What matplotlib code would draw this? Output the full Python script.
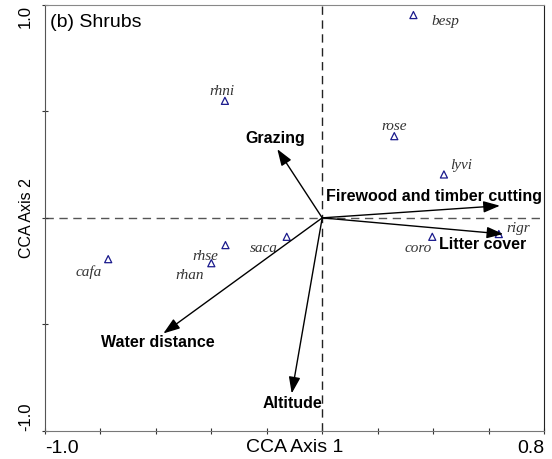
import numpy as np
import matplotlib
matplotlib.use('Agg')
import matplotlib.pyplot as plt

# 物种得分 (CCA 轴1, 轴2)
species = ['besp', 'rhni', 'rose', 'lyvi', 'rigr', 'coro', 'saca', 'rhse', 'rhan', 'cafa']
sp_x = [0.329, -0.351, 0.260, 0.439, 0.637, 0.397, -0.128, -0.349, -0.400, -0.772]
sp_y = [0.953, 0.550, 0.384, 0.204, -0.076, -0.089, -0.089, -0.128, -0.213, -0.194]
# 物种名字的位置
lab_x = [0.443, -0.363, 0.260, 0.503, 0.707, 0.347, -0.212, -0.420, -0.477, -0.844]
lab_y = [0.921, 0.593, 0.428, 0.245, -0.049, -0.143, -0.143, -0.183, -0.269, -0.253]

# 环境因子箭头
env = ['Grazing', 'Firewood and timber cutting', 'Litter cover', 'Water distance', 'Altitude']
env_x = [-0.162, 0.641, 0.653, -0.573, -0.110]
env_y = [0.323, 0.057, -0.076, -0.543, -0.825]
env_lx = [-0.170, 0.403, 0.580, -0.592, -0.109]
env_ly = [0.375, 0.099, -0.123, -0.587, -0.870]

fig = plt.figure(figsize=(5.52, 4.59), dpi=100)
ax = fig.add_axes([0.0815, 0.0617, 0.904, 0.9273])

# 原点的虚线
ax.axhline(0, color='#555555', lw=1, ls=(0, (6, 4)), zorder=1)
ax.axvline(0, color='#222222', lw=1, ls=(0, (6, 4)), zorder=1)

ax.scatter(sp_x, sp_y, marker='^', s=26, facecolors='none', edgecolors='#1a1a8c',
           linewidths=0.9, zorder=3)
for i in range(len(species)):
    ax.text(lab_x[i], lab_y[i], species[i], fontsize=11, style='italic',
            family='Liberation Serif', color='#333333', ha='center', va='center')

for i in range(len(env)):
    ax.annotate('', xy=(env_x[i], env_y[i]), xytext=(0, 0),
                arrowprops=dict(arrowstyle='-|>,head_length=1.0,head_width=0.35',
                                color='black', lw=1, shrinkA=0, shrinkB=0), zorder=4)
    ax.text(env_lx[i], env_ly[i], env[i], fontsize=11.5, fontweight='bold',
            family='Liberation Sans', ha='center', va='center', zorder=5)

ax.set_xlim(-1.0, 0.8)
ax.set_ylim(-1.0, 1.0)
ax.set_xticks(np.arange(-1.0, 0.81, 0.2))
ax.set_yticks([-1.0, -0.5, 0, 0.5, 1.0])
ax.set_xticklabels(['-1.0', '', '', '', '', '', '', '', '', '0.8'])
ax.set_yticklabels(['-1.0', '', '', '', '1.0'])
ax.tick_params(direction='inout', length=5, color='#333333')
ax.tick_params(axis='x', pad=4, labelsize=14)
ax.tick_params(axis='y', pad=6, labelsize=12)
xt = ax.get_xticklabels()
for t in xt:
    t.set_family('Liberation Sans')
xt[0].set_ha('left')
xt[-1].set_ha('right')
yt = ax.get_yticklabels()
for t in yt:
    t.set_rotation(90)
    t.set_family('Liberation Sans')
yt[0].set_va('bottom')
yt[-1].set_va('top')

# 轴标题和刻度数字在同一行
ax.set_xlabel('CCA Axis 1', fontsize=14, family='Liberation Sans', va='baseline')
ax.set_ylabel('CCA Axis 2', fontsize=11.5, family='Liberation Sans', va='bottom')
ax.xaxis.set_label_coords(0.5, -0.050)
ax.yaxis.set_label_coords(-0.022, 0.5)
ax.text(0.01, 0.949, '(b) Shrubs', transform=ax.transAxes, fontsize=14,
        family='Liberation Sans', ha='left', va='baseline')

ax.spines['top'].set_color('#888888')
ax.spines['bottom'].set_color('#777777')
ax.spines['left'].set_color('#555555')
ax.spines['right'].set_color('#222222')

fig.savefig('out.png', dpi=100)
